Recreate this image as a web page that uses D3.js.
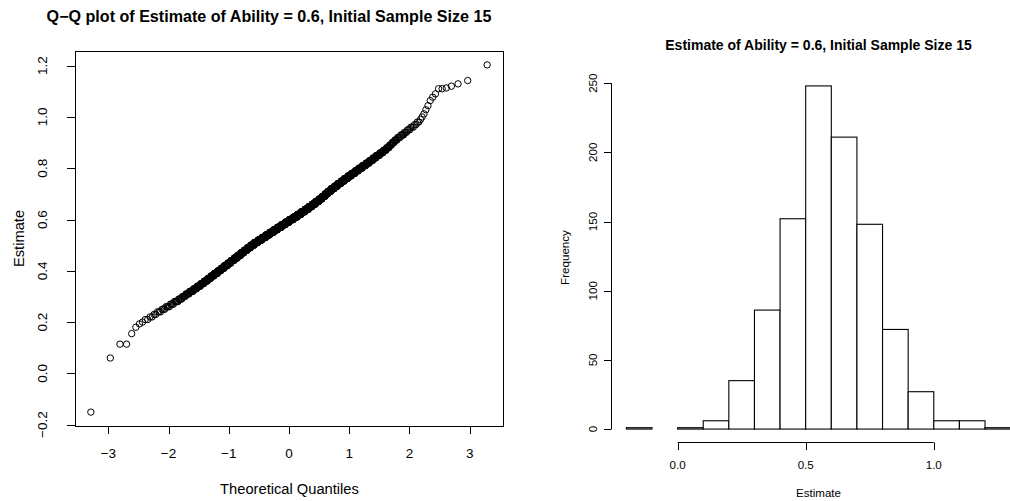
<!DOCTYPE html>
<html>
<head>
<meta charset="utf-8">
<script src="https://cdn.jsdelivr.net/npm/d3@7"></script>
<style>
  body { margin: 0; background: #fff; }
  svg { display: block; font-family: "Liberation Sans", Arial, Helvetica, sans-serif; }
</style>
</head>
<body>
<div id="chart"></div>
<script>
// --- data ---
// sorted estimates: the separate points in both tails
var lowTail = [-0.151, 0.060, 0.114, 0.114, 0.155, 0.180, 0.193, 0.200];
var highTail = [1.012, 1.028, 1.044, 1.064, 1.077, 1.090, 1.110, 1.110, 1.113, 1.120, 1.129, 1.142, 1.203];
// dense middle of the sample: estimate value and how many runs gave it
var midValues = [0.21, 0.22, 0.23, 0.24, 0.25, 0.26, 0.27, 0.28, 0.29, 0.30,
                 0.31, 0.32, 0.33, 0.34, 0.35, 0.36, 0.37, 0.38, 0.39, 0.40,
                 0.41, 0.42, 0.43, 0.44, 0.45, 0.46, 0.47, 0.48, 0.49, 0.50,
                 0.51, 0.52, 0.53, 0.54, 0.55, 0.56, 0.57, 0.58, 0.59, 0.60,
                 0.61, 0.62, 0.63, 0.64, 0.65, 0.66, 0.67, 0.68, 0.69, 0.70,
                 0.71, 0.72, 0.73, 0.74, 0.75, 0.76, 0.77, 0.78, 0.79, 0.80,
                 0.81, 0.82, 0.83, 0.84, 0.85, 0.86, 0.87, 0.88, 0.89, 0.90,
                 0.91, 0.92, 0.93, 0.94, 0.95, 0.96, 0.97, 0.98, 0.99, 1.00];
var midCounts = [2, 2, 2, 3, 3, 4, 4, 5, 5, 5,
                 6, 7, 7, 8, 8, 9, 9, 10, 11, 11,
                 12, 13, 13, 14, 15, 15, 16, 17, 18, 19,
                 22, 23, 24, 24, 25, 25, 26, 26, 26, 27,
                 26, 25, 24, 23, 22, 21, 20, 18, 17, 15,
                 17, 17, 16, 16, 15, 15, 14, 14, 12, 12,
                 11, 10, 9, 8, 8, 7, 6, 5, 4, 4,
                 4, 4, 4, 3, 3, 3, 2, 2, 1, 1];

// histogram (breaks of 0.1)
var binStarts = [-0.2, -0.1, 0.0, 0.1, 0.2, 0.3, 0.4, 0.5, 0.6, 0.7, 0.8, 0.9, 1.0, 1.1, 1.2];
var binCounts = [1, 0, 1, 6, 35, 86, 152, 248, 211, 148, 72, 27, 6, 6, 1];
var binWidth = 0.1;

var qqXTicks = [-3, -2, -1, 0, 1, 2, 3];
var qqYTicks = [-0.2, 0.0, 0.2, 0.4, 0.6, 0.8, 1.0, 1.2];
var histXTicks = [0.0, 0.5, 1.0];
var histYTicks = [0, 50, 100, 150, 200, 250];

var qqTitle = "Q\u2212Q plot of Estimate of Ability = 0.6, Initial Sample Size 15";
var histTitle = "Estimate of Ability = 0.6, Initial Sample Size 15";

// --- helpers ---
// inverse normal cdf (Acklam), needed for the theoretical quantiles
function qnorm(p) {
    var a = [-3.969683028665376e+01, 2.209460984245205e+02, -2.759285104469687e+02, 1.383577518672690e+02, -3.066479806614716e+01, 2.506628277459239e+00];
    var b = [-5.447609879822406e+01, 1.615858368580409e+02, -1.556989798598866e+02, 6.680131188771972e+01, -1.328068155288572e+01];
    var c = [-7.784894002430293e-03, -3.223964580411365e-01, -2.400758277161838e+00, -2.549732539343734e+00, 4.374664141464968e+00, 2.938163982698783e+00];
    var d = [7.784695709041462e-03, 3.224671290700398e-01, 2.445134137142996e+00, 3.754408661907416e+00];
    var pl = 0.02425, q, r;
    if (p < pl) {
        q = Math.sqrt(-2 * Math.log(p));
        return (((((c[0]*q+c[1])*q+c[2])*q+c[3])*q+c[4])*q+c[5]) / ((((d[0]*q+d[1])*q+d[2])*q+d[3])*q+1);
    }
    if (p > 1 - pl) {
        q = Math.sqrt(-2 * Math.log(1 - p));
        return -(((((c[0]*q+c[1])*q+c[2])*q+c[3])*q+c[4])*q+c[5]) / ((((d[0]*q+d[1])*q+d[2])*q+d[3])*q+1);
    }
    q = p - 0.5; r = q * q;
    return (((((a[0]*r+a[1])*r+a[2])*r+a[3])*r+a[4])*r+a[5])*q / (((((b[0]*r+b[1])*r+b[2])*r+b[3])*r+b[4])*r+1);
}

// R style 4% axis extension
function padded(ext) {
    var d = (ext[1] - ext[0]) * 0.04;
    return [ext[0] - d, ext[1] + d];
}

function minus(s) { return s.replace("-", "\u2212"); }

// --- build the sorted sample ---
var est = lowTail.slice();
midValues.forEach(function(v, i) {
    for (var k = 0; k < midCounts[i]; k++) est.push(v);
});
est = est.concat(highTail);
var n = est.length;
var qq = est.map(function(v, i) {
    return { q: qnorm((i + 1 - 0.5) / n), v: v };
});

var width = 1010, height = 501;
var svg = d3.select("#chart").append("svg")
    .attr("width", width)
    .attr("height", height);

// ================= left panel: Q-Q plot =================
var xQ = d3.scaleLinear()
    .domain(padded(d3.extent(qq, function(d) { return d.q; })))
    .range([75, 503]);
var yQ = d3.scaleLinear()
    .domain(padded(d3.extent(qq, function(d) { return d.v; })))
    .range([426, 51]);

var left = svg.append("g");

left.append("rect")
    .attr("x", 75.5).attr("y", 51.5)
    .attr("width", 428).attr("height", 375)
    .attr("fill", "none").attr("stroke", "#000").attr("stroke-width", 1);

left.selectAll("circle")
    .data(qq)
    .enter()
    .append("circle")
    .attr("cx", function(d) { return xQ(d.q); })
    .attr("cy", function(d) { return yQ(d.v); })
    .attr("r", 3.2)
    .attr("fill", "none")
    .attr("stroke", "#000")
    .attr("stroke-width", 1);

// bottom ticks
left.selectAll(".xt")
    .data(qqXTicks)
    .enter()
    .append("line")
    .attr("x1", function(d) { return Math.round(xQ(d)) + 0.5; })
    .attr("x2", function(d) { return Math.round(xQ(d)) + 0.5; })
    .attr("y1", 426).attr("y2", 434)
    .attr("stroke", "#000");
left.selectAll(".xl")
    .data(qqXTicks)
    .enter()
    .append("text")
    .attr("x", function(d) { return xQ(d); })
    .attr("y", 458)
    .attr("text-anchor", "middle")
    .style("font-size", "13.5px")
    .text(function(d) { return minus(String(d)); });

// left ticks
left.selectAll(".yt")
    .data(qqYTicks)
    .enter()
    .append("line")
    .attr("x1", 67).attr("x2", 75)
    .attr("y1", function(d) { return Math.round(yQ(d)) + 0.5; })
    .attr("y2", function(d) { return Math.round(yQ(d)) + 0.5; })
    .attr("stroke", "#000");
left.selectAll(".yl")
    .data(qqYTicks)
    .enter()
    .append("text")
    .attr("transform", function(d) { return "translate(47," + yQ(d) + ") rotate(-90)"; })
    .attr("text-anchor", "middle")
    .style("font-size", "13.5px")
    .text(function(d) { return minus(d3.format(".1f")(d)); });

left.append("text")
    .attr("x", 289.5).attr("y", 494)
    .attr("text-anchor", "middle")
    .style("font-size", "14.7px")
    .text("Theoretical Quantiles");
left.append("text")
    .attr("transform", "translate(24,238.5) rotate(-90)")
    .attr("text-anchor", "middle")
    .style("font-size", "14.7px")
    .text("Estimate");
left.append("text")
    .attr("x", 269).attr("y", 22)
    .attr("text-anchor", "middle")
    .style("font-size", "16.1px")
    .style("font-weight", "bold")
    .text(qqTitle);

// ================= right panel: histogram =================
var xH = d3.scaleLinear()
    .domain(padded([binStarts[0], binStarts[binStarts.length - 1] + binWidth]))
    .range([611, 1026]);
var yH = d3.scaleLinear()
    .domain(padded([0, d3.max(binCounts)]))
    .range([442.8, 72.2]);

var right = svg.append("g");

right.selectAll("rect")
    .data(binStarts)
    .enter()
    .append("rect")
    .attr("x", function(d) { return xH(d); })
    .attr("y", function(d, i) { return yH(binCounts[i]); })
    .attr("width", function(d) { return xH(d + binWidth) - xH(d); })
    .attr("height", function(d, i) { return yH(0) - yH(binCounts[i]); })
    .attr("fill", "#fff")
    .attr("stroke", "#000")
    .attr("stroke-width", 1.1);

// y axis
right.append("line")
    .attr("x1", 611.5).attr("x2", 611.5)
    .attr("y1", yH(histYTicks[0])).attr("y2", yH(histYTicks[histYTicks.length - 1]))
    .attr("stroke", "#000");
right.selectAll(".yt")
    .data(histYTicks)
    .enter()
    .append("line")
    .attr("x1", 604).attr("x2", 611.5)
    .attr("y1", function(d) { return Math.round(yH(d)) + 0.5; })
    .attr("y2", function(d) { return Math.round(yH(d)) + 0.5; })
    .attr("stroke", "#000");
right.selectAll(".yl")
    .data(histYTicks)
    .enter()
    .append("text")
    .attr("transform", function(d) { return "translate(597," + yH(d) + ") rotate(-90)"; })
    .attr("text-anchor", "middle")
    .style("font-size", "11.6px")
    .text(function(d) { return d; });

// x axis
right.append("line")
    .attr("x1", xH(histXTicks[0])).attr("x2", xH(histXTicks[histXTicks.length - 1]))
    .attr("y1", 442.5).attr("y2", 442.5)
    .attr("stroke", "#000");
right.selectAll(".xt")
    .data(histXTicks)
    .enter()
    .append("line")
    .attr("x1", function(d) { return Math.round(xH(d)) + 0.5; })
    .attr("x2", function(d) { return Math.round(xH(d)) + 0.5; })
    .attr("y1", 442.5).attr("y2", 450)
    .attr("stroke", "#000");
right.selectAll(".xl")
    .data(histXTicks)
    .enter()
    .append("text")
    .attr("x", function(d) { return xH(d); })
    .attr("y", 469)
    .attr("text-anchor", "middle")
    .style("font-size", "11.6px")
    .text(function(d) { return d3.format(".1f")(d); });

right.append("text")
    .attr("x", 818.5).attr("y", 497)
    .attr("text-anchor", "middle")
    .style("font-size", "11.6px")
    .text("Estimate");
right.append("text")
    .attr("transform", "translate(569,257.5) rotate(-90)")
    .attr("text-anchor", "middle")
    .style("font-size", "11.6px")
    .text("Frequency");
right.append("text")
    .attr("x", 818.5).attr("y", 50)
    .attr("text-anchor", "middle")
    .style("font-size", "14px")
    .style("font-weight", "bold")
    .text(histTitle);
</script>
</body>
</html>
